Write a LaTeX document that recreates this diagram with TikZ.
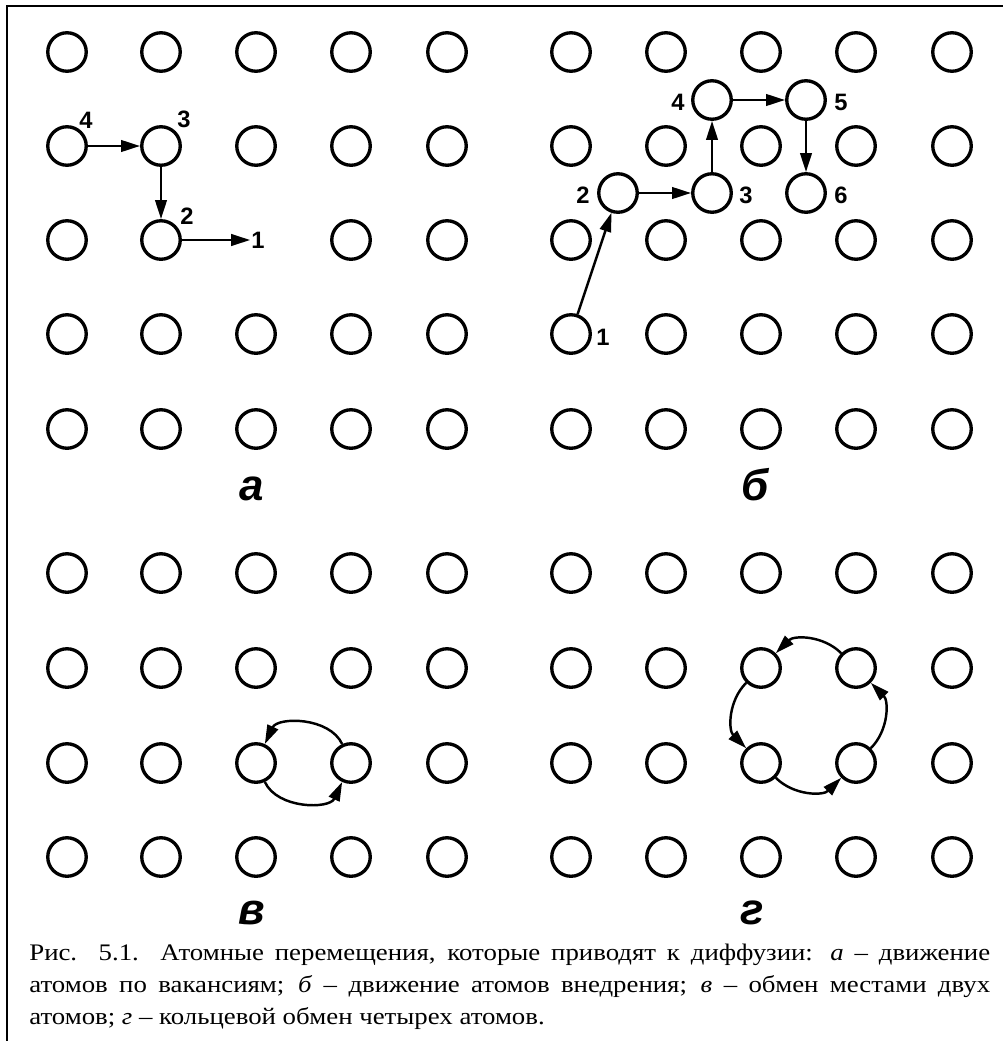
\documentclass[tikz,border=0pt]{standalone}
\usepackage{fontspec}
\setmainfont{Liberation Serif}
\newfontfamily\capfont[FakeStretch=1.13]{Liberation Serif}
\newfontfamily\lblfont{Liberation Sans}
\usetikzlibrary{arrows.meta}

\begin{document}
\begin{tikzpicture}[x=0.02cm, y=0.02cm,
    atom/.style={circle, draw, line width=1.9pt, minimum size=0.77cm, inner sep=0pt},
    num/.style={font=\lblfont\bfseries\fontsize{13.5}{16}\selectfont, inner sep=0.5pt},
    panel/.style={anchor=base, font=\lblfont\bfseries\itshape\fontsize{25}{30}\selectfont},
    hop/.style={-{Triangle[length=3.8mm, width=2.3mm]}, line width=1.4pt},
    edgeline/.style={line width=1.2pt}]

            \useasboundingbox (0, 0) rectangle (1003, -1041);
            \draw[edgeline] (7, -1041) |- (1003, -6);

            \node (a-1-1) at (67, -52) [atom] {};
            \node (a-1-2) at (161, -52) [atom] {};
            \node (a-1-3) at (256, -52) [atom] {};
            \node (a-1-4) at (351, -52) [atom] {};
            \node (a-1-5) at (447, -52) [atom] {};

            \node (a-2-1) at (67, -146) [atom] {};
            \node (a-2-2) at (161, -146) [atom] {};
            \node (a-2-3) at (256, -146) [atom] {};
            \node (a-2-4) at (351, -146) [atom] {};
            \node (a-2-5) at (447, -146) [atom] {};

            \node (a-3-1) at (67, -240) [atom] {};
            \node (a-3-2) at (161, -240) [atom] {};
            \node (a-3-4) at (351, -240) [atom] {};
            \node (a-3-5) at (447, -240) [atom] {};

            \node (a-4-1) at (67, -334) [atom] {};
            \node (a-4-2) at (161, -334) [atom] {};
            \node (a-4-3) at (256, -334) [atom] {};
            \node (a-4-4) at (351, -334) [atom] {};
            \node (a-4-5) at (447, -334) [atom] {};

            \node (a-5-1) at (67, -429) [atom] {};
            \node (a-5-2) at (161, -429) [atom] {};
            \node (a-5-3) at (256, -429) [atom] {};
            \node (a-5-4) at (351, -429) [atom] {};
            \node (a-5-5) at (447, -429) [atom] {};

            \node (a-n4) at (86, -120) [num] {4};
            \node (a-n3) at (184, -119) [num] {3};
            \node (a-n2) at (187, -216) [num] {2};
            \node (a-n1) at (258, -240) [num] {1};

            \draw[hop] (a-2-1) -- (a-2-2);
            \draw[hop] (a-2-2) -- (a-3-2);
            \draw[hop] (a-3-2) -- (a-n1);

            \node (a-label) at (252, -500) [panel] {а};

            \node (b-1-1) at (571, -52) [atom] {};
            \node (b-1-2) at (666, -52) [atom] {};
            \node (b-1-3) at (761, -52) [atom] {};
            \node (b-1-4) at (856, -52) [atom] {};
            \node (b-1-5) at (952, -52) [atom] {};

            \node (b-2-1) at (571, -146) [atom] {};
            \node (b-2-2) at (666, -146) [atom] {};
            \node (b-2-3) at (761, -146) [atom] {};
            \node (b-2-4) at (856, -146) [atom] {};
            \node (b-2-5) at (952, -146) [atom] {};

            \node (b-3-1) at (571, -240) [atom] {};
            \node (b-3-2) at (666, -240) [atom] {};
            \node (b-3-3) at (761, -240) [atom] {};
            \node (b-3-4) at (856, -240) [atom] {};
            \node (b-3-5) at (952, -240) [atom] {};

            \node (b-4-1) at (571, -334) [atom] {};
            \node (b-4-2) at (666, -334) [atom] {};
            \node (b-4-3) at (761, -334) [atom] {};
            \node (b-4-4) at (856, -334) [atom] {};
            \node (b-4-5) at (952, -334) [atom] {};

            \node (b-5-1) at (571, -429) [atom] {};
            \node (b-5-2) at (666, -429) [atom] {};
            \node (b-5-3) at (761, -429) [atom] {};
            \node (b-5-4) at (856, -429) [atom] {};
            \node (b-5-5) at (952, -429) [atom] {};

            \node (b-i2) at (618, -193) [atom] {};
            \node (b-i3) at (712, -193) [atom] {};
            \node (b-i4) at (712, -100) [atom] {};
            \node (b-i5) at (806, -100) [atom] {};
            \node (b-i6) at (806, -193) [atom] {};

            \node (b-n1) at (603, -337) [num] {1};
            \node (b-n2) at (583, -195) [num] {2};
            \node (b-n3) at (746, -195) [num] {3};
            \node (b-n4) at (678, -102) [num] {4};
            \node (b-n5) at (841, -102) [num] {5};
            \node (b-n6) at (841, -195) [num] {6};

            \draw[hop] (b-4-1) -- (b-i2);
            \draw[hop] (b-i2) -- (b-i3);
            \draw[hop] (b-i3) -- (b-i4);
            \draw[hop] (b-i4) -- (b-i5);
            \draw[hop] (b-i5) -- (b-i6);

            \node (b-label) at (755, -500) [panel] {б};

            \node (v-1-1) at (67, -573) [atom] {};
            \node (v-1-2) at (161, -573) [atom] {};
            \node (v-1-3) at (256, -573) [atom] {};
            \node (v-1-4) at (351, -573) [atom] {};
            \node (v-1-5) at (447, -573) [atom] {};

            \node (v-2-1) at (67, -668) [atom] {};
            \node (v-2-2) at (161, -668) [atom] {};
            \node (v-2-3) at (256, -668) [atom] {};
            \node (v-2-4) at (351, -668) [atom] {};
            \node (v-2-5) at (447, -668) [atom] {};

            \node (v-3-1) at (67, -763) [atom] {};
            \node (v-3-2) at (161, -763) [atom] {};
            \node (v-3-3) at (256, -763) [atom] {};
            \node (v-3-4) at (351, -763) [atom] {};
            \node (v-3-5) at (447, -763) [atom] {};

            \node (v-4-1) at (67, -857) [atom] {};
            \node (v-4-2) at (161, -857) [atom] {};
            \node (v-4-3) at (256, -857) [atom] {};
            \node (v-4-4) at (351, -857) [atom] {};
            \node (v-4-5) at (447, -857) [atom] {};

            \draw[hop] (v-3-4) to[bend right=65] (v-3-3);
            \draw[hop] (v-3-3) to[bend right=65] (v-3-4);

            \node (v-label) at (252, -924) [panel] {в};

            \node (g-1-1) at (571, -573) [atom] {};
            \node (g-1-2) at (666, -573) [atom] {};
            \node (g-1-3) at (761, -573) [atom] {};
            \node (g-1-4) at (856, -573) [atom] {};
            \node (g-1-5) at (952, -573) [atom] {};

            \node (g-2-1) at (571, -668) [atom] {};
            \node (g-2-2) at (666, -668) [atom] {};
            \node (g-2-3) at (761, -668) [atom] {};
            \node (g-2-4) at (856, -668) [atom] {};
            \node (g-2-5) at (952, -668) [atom] {};

            \node (g-3-1) at (571, -763) [atom] {};
            \node (g-3-2) at (666, -763) [atom] {};
            \node (g-3-3) at (761, -763) [atom] {};
            \node (g-3-4) at (856, -763) [atom] {};
            \node (g-3-5) at (952, -763) [atom] {};

            \node (g-4-1) at (571, -857) [atom] {};
            \node (g-4-2) at (666, -857) [atom] {};
            \node (g-4-3) at (761, -857) [atom] {};
            \node (g-4-4) at (856, -857) [atom] {};
            \node (g-4-5) at (952, -857) [atom] {};

            \draw[hop] (g-2-4) to[bend right=45] (g-2-3);
            \draw[hop] (g-2-3) to[bend right=45] (g-3-3);
            \draw[hop] (g-3-3) to[bend right=45] (g-3-4);
            \draw[hop] (g-3-4) to[bend right=45] (g-2-4);

            \node (g-label) at (752, -924) [panel] {г};

            \node (caption) at (29, -944) [anchor=north west, inner sep=0pt, text width=19.22cm, align=justify,
                font=\capfont\fontsize{13.5}{18.1}\selectfont]
                {Рис. 5.1. Атомные перемещения, которые приводят к диффузии: \textit{а} – движение\linebreak
                атомов по вакансиям; \textit{б} – движение атомов внедрения; \textit{в} – обмен местами двух\linebreak
                атомов; \textit{г} – кольцевой обмен четырех атомов.};

\end{tikzpicture}
\end{document}
